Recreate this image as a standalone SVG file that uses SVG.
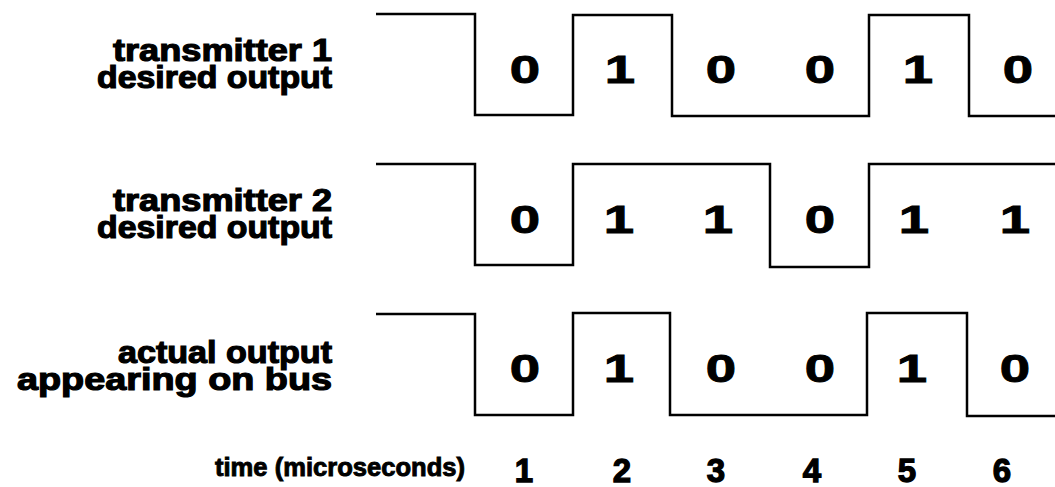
<svg xmlns="http://www.w3.org/2000/svg" width="1055" height="487" viewBox="0 0 1055 487">
<style>
.lbl{font-family:"Liberation Sans",Arial,sans-serif;font-weight:bold;font-size:32px;fill:#000;stroke:#000;stroke-width:1.2px;text-anchor:end}
.bit{font-family:"Liberation Sans",Arial,sans-serif;font-weight:bold;font-size:39px;fill:#000;stroke:#000;stroke-width:0.9px;text-anchor:middle}
.tm{font-family:"Liberation Sans",Arial,sans-serif;font-weight:bold;font-size:25px;fill:#000;stroke:#000;stroke-width:0.9px}
.num{font-family:"Liberation Sans",Arial,sans-serif;font-weight:bold;font-size:33px;fill:#000;stroke:#000;stroke-width:1.3px;text-anchor:middle}
.wave{fill:none;stroke:#000;stroke-width:2.5;stroke-linejoin:miter}
</style>
<rect width="1055" height="487" fill="#fff"/>

<g id="row1">
  <text class="lbl" x="332" y="61" textLength="219" lengthAdjust="spacingAndGlyphs">transmitter 1</text>
  <text class="lbl" x="332" y="88" textLength="235" lengthAdjust="spacingAndGlyphs">desired output</text>
  <path class="wave" d="M376,14 H475 V115 H573 V15 H672 V116 H869 V15 H969 V116 H1055"/>
  <text class="bit" transform="translate(525,83) scale(1.4,1)">0</text>
  <text class="bit" transform="translate(620,83) scale(1.4,1)">1</text>
  <text class="bit" transform="translate(721,83) scale(1.4,1)">0</text>
  <text class="bit" transform="translate(820,83) scale(1.4,1)">0</text>
  <text class="bit" transform="translate(918,83) scale(1.4,1)">1</text>
  <text class="bit" transform="translate(1018,83) scale(1.4,1)">0</text>
</g>

<g id="row2">
  <text class="lbl" x="332" y="211" textLength="219" lengthAdjust="spacingAndGlyphs">transmitter 2</text>
  <text class="lbl" x="332" y="238" textLength="235" lengthAdjust="spacingAndGlyphs">desired output</text>
  <path class="wave" d="M376,164 H475 V265 H573 V164 H770 V267 H869 V164 H1055"/>
  <text class="bit" transform="translate(525,233) scale(1.4,1)">0</text>
  <text class="bit" transform="translate(619,233) scale(1.4,1)">1</text>
  <text class="bit" transform="translate(718,233) scale(1.4,1)">1</text>
  <text class="bit" transform="translate(820,233) scale(1.4,1)">0</text>
  <text class="bit" transform="translate(914,233) scale(1.4,1)">1</text>
  <text class="bit" transform="translate(1015,233) scale(1.4,1)">1</text>
</g>

<g id="row3">
  <text class="lbl" x="332" y="363" textLength="214" lengthAdjust="spacingAndGlyphs">actual output</text>
  <text class="lbl" x="332" y="390" textLength="315" lengthAdjust="spacingAndGlyphs">appearing on bus</text>
  <path class="wave" d="M376,314 H475 V415 H573 V313 H670 V415 H867 V313 H967 V416 H1055"/>
  <text class="bit" transform="translate(525,382) scale(1.4,1)">0</text>
  <text class="bit" transform="translate(619,382) scale(1.4,1)">1</text>
  <text class="bit" transform="translate(721,382) scale(1.4,1)">0</text>
  <text class="bit" transform="translate(820,382) scale(1.4,1)">0</text>
  <text class="bit" transform="translate(912,382) scale(1.4,1)">1</text>
  <text class="bit" transform="translate(1015,382) scale(1.4,1)">0</text>
</g>

<g id="time-axis">
  <text class="tm" x="215" y="476" textLength="250" lengthAdjust="spacingAndGlyphs">time (microseconds)</text>
  <text class="num" x="524" y="482">1</text>
  <text class="num" x="622" y="482">2</text>
  <text class="num" x="716" y="482">3</text>
  <text class="num" x="812" y="482">4</text>
  <text class="num" x="907" y="482">5</text>
  <text class="num" x="1002" y="482">6</text>
</g>
</svg>
